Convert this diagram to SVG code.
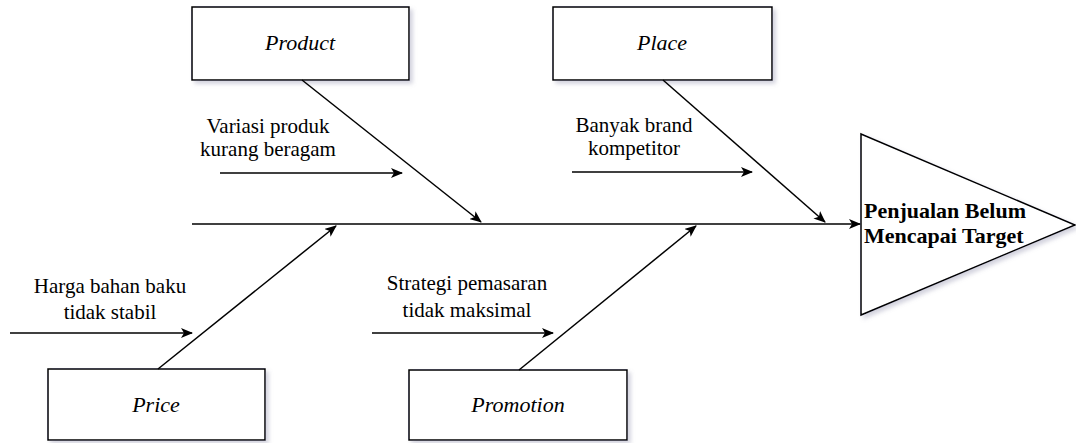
<svg xmlns="http://www.w3.org/2000/svg" width="1076" height="443" viewBox="0 0 1076 443">
<style>
text{font-family:"Liberation Serif","Times New Roman",Times,"DejaVu Serif",serif;fill:#000}
.box{fill:#fff;stroke:#000;stroke-width:1.5;filter:url(#sh)}
.ln{stroke:#000;stroke-width:1.5;fill:none;marker-end:url(#ah)}
.lbl{font-size:21px;font-style:normal;font-weight:normal;text-anchor:middle}
.it{font-size:22px;font-style:italic;text-anchor:middle}
.hd{font-size:22px;font-weight:bold}
</style>
<defs>
<filter id="sh" x="-10%" y="-10%" width="130%" height="130%">
<feDropShadow dx="3" dy="3" stdDeviation="2" flood-color="#8080a0" flood-opacity="0.35"/>
</filter>
<marker id="ah" viewBox="0 0 12 10" refX="11" refY="5" markerWidth="12" markerHeight="10" markerUnits="userSpaceOnUse" orient="auto">
<path d="M0,0 L12,5 L0,10 L3,5 z" fill="#000"/>
</marker>
</defs>
<rect width="1076" height="443" fill="#fff"/>
<g id="effect">
<polygon class="box" points="861,134 1075,225 861,315"/>
<text class="hd" x="864" y="218">Penjualan Belum</text>
<text class="hd" x="864" y="243">Mencapai Target</text>
</g>
<g id="product">
<rect class="box" x="192" y="7" width="217" height="73"/>
<text class="it" x="300" y="50">Product</text>
</g>
<g id="place">
<rect class="box" x="553" y="7" width="219" height="73"/>
<text class="it" x="662" y="50">Place</text>
</g>
<g id="price">
<rect class="box" x="48" y="369" width="217" height="71"/>
<text class="it" x="156" y="412">Price</text>
</g>
<g id="promotion">
<rect class="box" x="409" y="370" width="218" height="70"/>
<text class="it" x="518" y="412">Promotion</text>
</g>
<g id="cause-product">
<text class="lbl" x="268" y="133">Variasi produk</text>
<text class="lbl" x="268" y="156">kurang beragam</text>
</g>
<g id="cause-place">
<text class="lbl" x="634" y="132">Banyak brand</text>
<text class="lbl" x="634" y="155">kompetitor</text>
</g>
<g id="cause-price">
<text class="lbl" x="110" y="293">Harga bahan baku</text>
<text class="lbl" x="110" y="319">tidak stabil</text>
</g>
<g id="cause-promotion">
<text class="lbl" x="467" y="290">Strategi pemasaran</text>
<text class="lbl" x="467" y="317">tidak maksimal</text>
</g>
<g id="connectors">
<line class="ln" x1="192" y1="224" x2="860" y2="224"/>
<line class="ln" x1="302" y1="80" x2="481" y2="222"/>
<line class="ln" x1="663" y1="80" x2="825" y2="222"/>
<line class="ln" x1="158" y1="369" x2="336" y2="226"/>
<line class="ln" x1="519" y1="370" x2="696" y2="226"/>
<line class="ln" x1="220" y1="173" x2="402" y2="173"/>
<line class="ln" x1="572" y1="172" x2="752" y2="172"/>
<line class="ln" x1="10" y1="333" x2="192" y2="333"/>
<line class="ln" x1="372" y1="333" x2="553" y2="333"/>
</g>
</svg>
